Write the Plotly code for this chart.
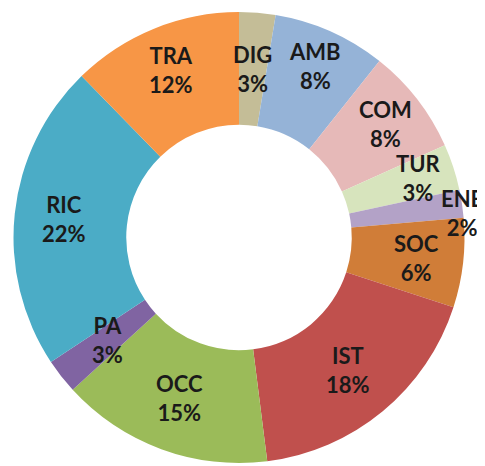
import math
import plotly.graph_objects as go

labels = ["DIG", "AMB", "COM", "TUR", "ENE", "SOC", "IST", "OCC", "PA", "RIC", "TRA"]
values = [2.6, 8.1, 7.6, 3.3, 2.0, 6.4, 18.0, 15.2, 2.5, 22.0, 12.3]
pct_text = ["3%", "8%", "8%", "3%", "2%", "6%", "18%", "15%", "3%", "22%", "12%"]
colors = ["#C4BD97", "#95B3D7", "#E6B9B8", "#D7E4BD", "#B3A2C7", "#D07D38",
          "#C0504D", "#9BBB59", "#8064A2", "#4BACC6", "#F79646"]
# radial position of each label as a fraction of the outer radius (style)
label_radius = [0.75, 0.83, 0.82, 0.84, 1.0, 0.79, 0.76, 0.76, 0.74, 0.78, 0.80]
label_yshift = [0, 0, 0, 0, -9, 0, 0, 0, 0, 0, 0]

W, H = 485, 466
OFF = 8  # page body margin in the browser
# donut box in page pixels: left, right, top, bottom
left, right, top, bottom = 13 - OFF, 465 - OFF, 12 - OFF, 463 - OFF
dom_x = [left / W, right / W]
dom_y = [(H - bottom) / H, (H - top) / H]
HOLE = 0.5

fig = go.Figure(go.Pie(
    labels=labels,
    values=values,
    text=pct_text,
    textinfo="none",
    marker=dict(colors=colors, line=dict(width=0)),
    hole=HOLE,
    sort=False,
    direction="clockwise",
    rotation=0,
    automargin=False,
    domain=dict(x=dom_x, y=dom_y),
    showlegend=False,
    hoverinfo="label+percent",
))

# label placement derived from the data (mid-angle of each slice)
cx = (left + right) / 2
cy = (top + bottom) / 2
R = min(right - left, bottom - top) / 2
total = sum(values)
cum = 0.0
annotations = []
for lab, val, pct, rf, ys in zip(labels, values, pct_text, label_radius, label_yshift):
    mid = (cum + val / 2) / total * 2 * math.pi
    cum += val
    px = cx + rf * R * math.sin(mid)
    py = cy - rf * R * math.cos(mid)
    px = min(px, W - OFF - 23)
    annotations.append(dict(
        x=px / W, y=1 - py / H, xref="paper", yref="paper",
        text=f"{lab}<br>{pct}", showarrow=False,
        xanchor="center", yanchor="middle", yshift=ys,
        font=dict(family="Lato", size=22, color="#1a1a1a", weight="bold"),
    ))

fig.update_layout(
    width=W, height=H,
    margin=dict(l=0, r=0, t=0, b=0),
    paper_bgcolor="white",
    plot_bgcolor="white",
    annotations=annotations,
)
fig.write_html("out.html")
